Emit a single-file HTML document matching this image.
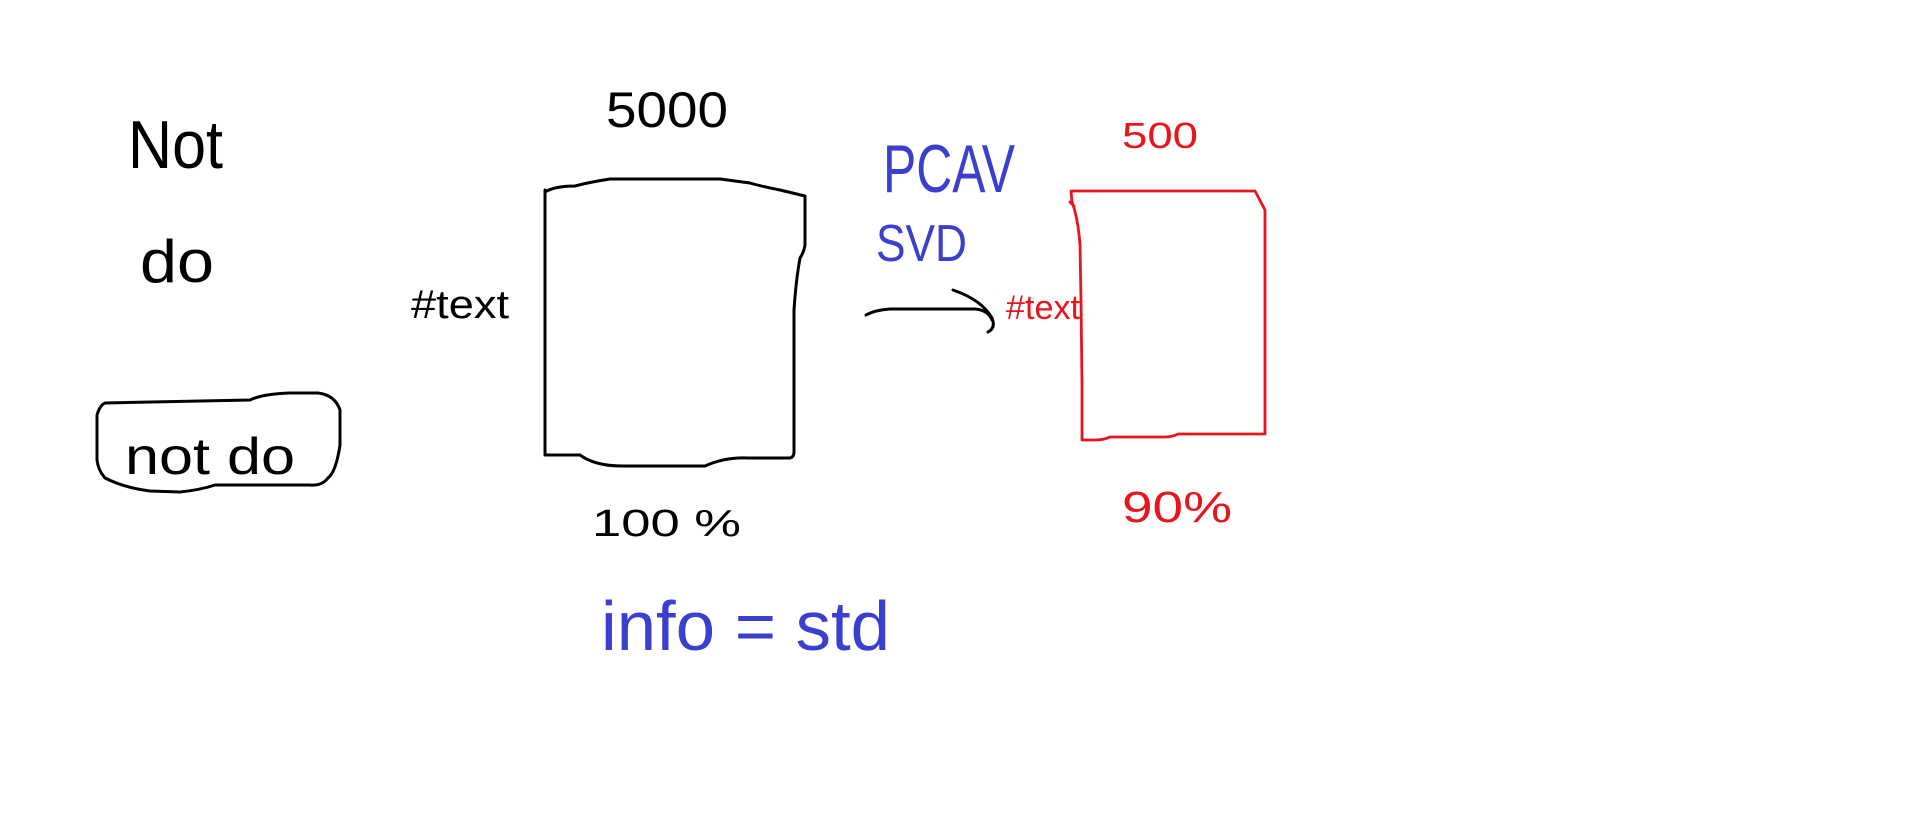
<!DOCTYPE html>
<html><head><meta charset="utf-8"><style>
html,body{margin:0;padding:0;background:#fff;}
svg{display:block;}
text{font-family:"Liberation Sans",sans-serif;}
</style></head><body>
<svg width="1913" height="824" viewBox="0 0 1913 824">
<g fill="none" stroke-linejoin="round" stroke-linecap="round">
  <path stroke="#000" stroke-width="3"
    d="M545,190 L545,455 L580,455 Q595,466 622,466 L705,466 Q725,457 748,458 L790,458 Q794,457 794,452 L794,310 Q796,280 800,258 Q804,252 805,245 L805,196 L780,190 Q760,186 750,183 L720,179 L610,179 Q590,182 575,186 Q555,186 545,192 Z"/>
  <path stroke="#e8161c" stroke-width="2.8"
    d="M1072,191 L1255,191 L1265,210 L1265,434 L1178,434 Q1172,437 1165,437 L1110,437 Q1104,440 1095,440 L1082,440 L1082,385 L1081,300 L1080,245 Q1078,218 1072,202 L1071,191 M1070,202 L1074,206"/>
  <path stroke="#000" stroke-width="3"
    d="M105,403 L250,400 Q262,394 290,393 L318,393 Q335,395 340,410 L340,445 Q336,472 328,478 Q322,486 310,485 L215,485 Q200,490 180,492 L150,491 Q125,488 105,478 Q98,470 97,460 L97,415 Q100,405 105,403 Z"/>
  <path stroke="#000" stroke-width="3"
    d="M866,315 Q875,310 890,309 L975,309 Q988,310 992,320 M953,290 Q982,300 992,318 Q996,328 988,332"/>
</g>
<text x="128" y="168" font-size="68" textLength="95" lengthAdjust="spacingAndGlyphs" fill="#000">Not</text>
<text x="140" y="282" font-size="60" textLength="74" lengthAdjust="spacingAndGlyphs" fill="#000">do</text>
<text x="125" y="474" font-size="52" textLength="170" lengthAdjust="spacingAndGlyphs" fill="#000">not  do</text>
<text x="606" y="127" font-size="50" textLength="122" lengthAdjust="spacingAndGlyphs" fill="#000">5000</text>
<text x="411" y="318" font-size="40" textLength="98" lengthAdjust="spacingAndGlyphs" fill="#000">#text</text>
<text x="592" y="536" font-size="38" textLength="149" lengthAdjust="spacingAndGlyphs" fill="#000">100 %</text>
<text x="883" y="192" font-size="68" textLength="132" lengthAdjust="spacingAndGlyphs" fill="#3b3fce">PCAV</text>
<text x="876" y="261" font-size="52" textLength="91" lengthAdjust="spacingAndGlyphs" fill="#3b3fce">SVD</text>
<text x="1006" y="319" font-size="34" textLength="74" lengthAdjust="spacingAndGlyphs" fill="#e8161c">#text</text>
<text x="1122" y="148" font-size="36" textLength="76" lengthAdjust="spacingAndGlyphs" fill="#e8161c">500</text>
<text x="1122" y="522" font-size="44" textLength="110" lengthAdjust="spacingAndGlyphs" fill="#e8161c">90%</text>
<text x="601" y="650" font-size="70" textLength="289" lengthAdjust="spacingAndGlyphs" fill="#3b3fce">info = std</text>
</svg>
</body></html>
